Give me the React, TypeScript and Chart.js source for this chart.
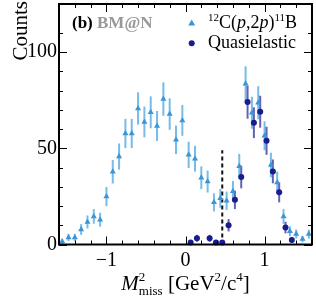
import React, { useEffect, useRef } from "react";
import { Chart, registerables } from "chart.js";

Chart.register(...registerables);

const binCenters = [-1.56, -1.48, -1.4, -1.32, -1.24, -1.16, -1.08, -1.0, -0.92, -0.84, -0.76, -0.68, -0.6, -0.52, -0.44, -0.36, -0.28, -0.2, -0.12, -0.04, 0.04, 0.12, 0.2, 0.28, 0.36, 0.44, 0.52, 0.6, 0.68, 0.76, 0.84, 0.92, 1.0, 1.08, 1.16, 1.24, 1.32, 1.4, 1.48, 1.56];
const pp2pCounts = [1.5, 3.7, 3.7, 7.8, 11.7, 14.6, 12.9, 24.9, 37.8, 45.7, 57.7, 57.7, 70.7, 63.7, 68.7, 61.6, 75.6, 67.8, 54.4, 64.5, 46.6, 44.6, 34.7, 32.7, 21.9, 24, 22.7, 27.7, 40.7, 83.5, 68.5, 73.7, 56.5, 41.3, 32.2, 14.6, 6.9, 5.5, 2.8, 5.4];
const pp2pErrors = [1.2, 1.9, 1.9, 2.8, 3.4, 3.8, 3.6, 5.0, 6.1, 6.8, 7.6, 7.6, 8.4, 8.0, 8.3, 7.8, 8.7, 8.2, 7.4, 8.0, 6.8, 6.7, 5.9, 5.7, 4.7, 4.9, 4.8, 5.3, 6.4, 9.1, 8.3, 8.6, 7.5, 6.4, 5.7, 3.8, 2.6, 2.3, 1.7, 2.3];

const qeX = [0.065, 0.145, 0.305, 0.385, 0.465, 0.545, 0.625, 0.705, 0.785, 0.865, 0.945, 1.025, 1.105, 1.185, 1.265, 1.345];
const qeCounts = [1, 3.2, 3.2, 1, 1, 10, 23.2, 35.1, 74, 63.3, 69, 53.9, 38, 27.1, 8.8, 2.3];
const qeErrors = [1, 1.8, 1.8, 1, 1, 3.2, 4.8, 5.9, 8.6, 8.0, 8.3, 7.3, 6.2, 5.2, 3.0, 1.5];

const cutX = 0.465;
const cutTop = 49;

const xMin = -1.6;
const xMax = 1.6;
const yMin = 0;
const yMax = 125;

const LIGHT = "#3a96d4";
const LIGHT_ERR = "rgba(85,170,228,0.8)";
const DARK = "#191c8c";
const DARK_ERR = "rgba(45,45,155,0.75)";
const SERIF = "'Liberation Serif', 'DejaVu Serif', serif";

function drawRich(ctx: CanvasRenderingContext2D, parts: { t: string; f: string; dy?: number; stack?: boolean }[], x: number, y: number) {
  let cx = x;
  let lastStartX = x;
  let lastW = 0;
  for (const p of parts) {
    ctx.font = p.f;
    const w = ctx.measureText(p.t).width;
    if (p.stack) {
      ctx.fillText(p.t, lastStartX, y + (p.dy || 0));
      cx = lastStartX + Math.max(lastW, w);
    } else {
      ctx.fillText(p.t, cx, y + (p.dy || 0));
      lastStartX = cx;
      lastW = w;
      cx += w;
    }
  }
}

const decorPlugin = {
  id: "decor",
  beforeDatasetsDraw(chart: any) {
    const ctx = chart.ctx as CanvasRenderingContext2D;
    const xs = chart.scales.x;
    const ys = chart.scales.y;
    ctx.save();
    ctx.lineWidth = 2;
    ctx.strokeStyle = LIGHT_ERR;
    binCenters.forEach((b, i) => {
      const px = xs.getPixelForValue(b);
      ctx.beginPath();
      ctx.moveTo(px, ys.getPixelForValue(Math.max(0, pp2pCounts[i] - pp2pErrors[i])));
      ctx.lineTo(px, ys.getPixelForValue(pp2pCounts[i] + pp2pErrors[i]));
      ctx.stroke();
    });
    ctx.strokeStyle = DARK_ERR;
    qeX.forEach((b, i) => {
      const px = xs.getPixelForValue(b);
      ctx.beginPath();
      ctx.moveTo(px, ys.getPixelForValue(Math.max(0, qeCounts[i] - qeErrors[i])));
      ctx.lineTo(px, ys.getPixelForValue(qeCounts[i] + qeErrors[i]));
      ctx.stroke();
    });
    ctx.strokeStyle = "#111";
    ctx.lineWidth = 2;
    ctx.setLineDash([4, 3]);
    const cx = xs.getPixelForValue(cutX);
    ctx.beginPath();
    ctx.moveTo(cx, ys.getPixelForValue(0));
    ctx.lineTo(cx, ys.getPixelForValue(cutTop));
    ctx.stroke();
    ctx.restore();
  },
  afterDraw(chart: any) {
    const ctx = chart.ctx as CanvasRenderingContext2D;
    const xs = chart.scales.x;
    const ys = chart.scales.y;
    const a = chart.chartArea;
    ctx.save();
    ctx.strokeStyle = "#000";
    ctx.lineWidth = 2;
    ctx.strokeRect(a.left, a.top, a.right - a.left, a.bottom - a.top);
    ctx.lineWidth = 1;
    xs.ticks.forEach((t: any) => {
      const v = t.value;
      const major = Math.abs(v - Math.round(v)) < 1e-6;
      const len = major ? 8 : 4;
      const px = Math.round(xs.getPixelForValue(v)) + 0.5;
      ctx.beginPath();
      ctx.moveTo(px, a.bottom);
      ctx.lineTo(px, a.bottom - len);
      ctx.moveTo(px, a.top);
      ctx.lineTo(px, a.top + len);
      ctx.stroke();
    });
    ys.ticks.forEach((t: any) => {
      const v = t.value;
      if (Math.abs(v / 10 - Math.round(v / 10)) > 1e-6) return;
      const major = Math.abs(v / 50 - Math.round(v / 50)) < 1e-6;
      const len = major ? 8 : 4;
      const py = Math.round(ys.getPixelForValue(v)) + 0.5;
      ctx.beginPath();
      ctx.moveTo(a.left, py);
      ctx.lineTo(a.left + len, py);
      ctx.moveTo(a.right, py);
      ctx.lineTo(a.right - len, py);
      ctx.stroke();
    });

    ctx.fillStyle = "#000";
    ctx.save();
    ctx.translate(27, 1);
    ctx.rotate(-Math.PI / 2);
    ctx.font = `21px ${SERIF}`;
    ctx.textAlign = "right";
    ctx.textBaseline = "alphabetic";
    ctx.fillText("Counts", 0, 0);
    ctx.restore();

    ctx.textAlign = "left";
    ctx.textBaseline = "alphabetic";
    const big = `21px ${SERIF}`;
    const bigI = `italic 21px ${SERIF}`;
    const small = `13px ${SERIF}`;
    const xParts = [
      { t: "M", f: bigI },
      { t: "2", f: small, dy: -9 },
      { t: "miss", f: small, dy: 5, stack: true },
      { t: " [GeV", f: big },
      { t: "2", f: small, dy: -9 },
      { t: "/c", f: big },
      { t: "4", f: small, dy: -9 },
      { t: "]", f: big },
    ];
    let totalW = 0;
    {
      let lastW = 0;
      for (const p of xParts) {
        ctx.font = p.f;
        const w = ctx.measureText(p.t).width;
        if (p.stack) {
          totalW += Math.max(0, w - lastW);
        } else {
          totalW += w;
          lastW = w;
        }
      }
    }
    drawRich(ctx, xParts, (a.left + a.right) / 2 - totalW / 2, 290);

    ctx.font = `bold 17px ${SERIF}`;
    ctx.fillStyle = "#000";
    ctx.fillText("(b)", 72, 28);
    const bw = ctx.measureText("(b) ").width;
    ctx.fillStyle = "#999999";
    ctx.fillText("BM@N", 72 + bw, 28);

    ctx.fillStyle = LIGHT;
    ctx.beginPath();
    ctx.moveTo(191.7, 19.5);
    ctx.lineTo(195.2, 25.5);
    ctx.lineTo(188.2, 25.5);
    ctx.closePath();
    ctx.fill();
    ctx.fillStyle = DARK;
    ctx.beginPath();
    ctx.arc(191.7, 43.3, 3, 0, Math.PI * 2);
    ctx.fill();

    ctx.fillStyle = "#000";
    const n = `18px ${SERIF}`;
    const ni = `italic 18px ${SERIF}`;
    const s = `11px ${SERIF}`;
    drawRich(ctx, [
      { t: "12", f: s, dy: -7 },
      { t: "C(", f: n },
      { t: "p", f: ni },
      { t: ",2", f: n },
      { t: "p", f: ni },
      { t: ")", f: n },
      { t: "11", f: s, dy: -7 },
      { t: "B", f: n },
    ], 208, 28);
    ctx.font = n;
    ctx.fillText("Quasielastic", 208, 48);
    ctx.restore();
  },
};

export default function App() {
  const ref = useRef<HTMLCanvasElement | null>(null);
  useEffect(() => {
    if (!ref.current) return;
    const chart = new Chart(ref.current, {
      type: "scatter",
      data: {
        datasets: [
          {
            label: "pp2p",
            data: binCenters.map((x, i) => ({ x, y: pp2pCounts[i] })),
            pointStyle: "triangle",
            pointRadius: 3.5,
            backgroundColor: LIGHT,
            borderColor: LIGHT,
            borderWidth: 0,
            clip: false,
          } as any,
          {
            label: "qe",
            data: qeX.map((x, i) => ({ x, y: qeCounts[i] })),
            pointStyle: "circle",
            pointRadius: 3,
            backgroundColor: DARK,
            borderColor: DARK,
            borderWidth: 0,
            clip: false,
          } as any,
        ],
      },
      options: {
        animation: false,
        responsive: false,
        devicePixelRatio: 1,
        layout: { padding: { top: 1, right: 1, left: 0, bottom: 0 } },
        plugins: { legend: { display: false }, tooltip: { enabled: false } },
        scales: {
          x: {
            type: "linear",
            min: xMin,
            max: xMax,
            afterFit: (s: any) => {
              s.height = 60.5;
              s.paddingLeft = 0;
              s.paddingRight = 0;
            },
            grid: { display: false, drawTicks: false },
            border: { display: false },
            ticks: {
              stepSize: 0.2,
              autoSkip: false,
              maxRotation: 0,
              padding: 4,
              color: "#000",
              font: { family: SERIF, size: 20 },
              callback: (v: any) => {
                const n = Number(v);
                if (Math.abs(n - Math.round(n)) < 1e-6) {
                  const r = Math.round(n);
                  return r < 0 ? "\u2212" + Math.abs(r) : String(r);
                }
                return "";
              },
            },
          },
          y: {
            type: "linear",
            min: yMin,
            max: yMax,
            afterFit: (s: any) => {
              s.width = 59;
              s.paddingTop = 0;
              s.paddingBottom = 0;
            },
            grid: { display: false, drawTicks: false },
            border: { display: false },
            ticks: {
              stepSize: 10,
              autoSkip: false,
              padding: 2,
              color: "#000",
              font: { family: SERIF, size: 20 },
              callback: (v: any) => {
                const n = Number(v);
                return Math.abs(n / 50 - Math.round(n / 50)) < 1e-6 ? String(Math.round(n)) : "";
              },
            },
          },
        },
      },
      plugins: [decorPlugin],
    });
    return () => chart.destroy();
  }, []);
  return (
    <div style={{ position: "fixed", left: 0, top: 0, width: 316, height: 305 }}>
      <canvas ref={ref} width={316} height={305} />
    </div>
  );
}
